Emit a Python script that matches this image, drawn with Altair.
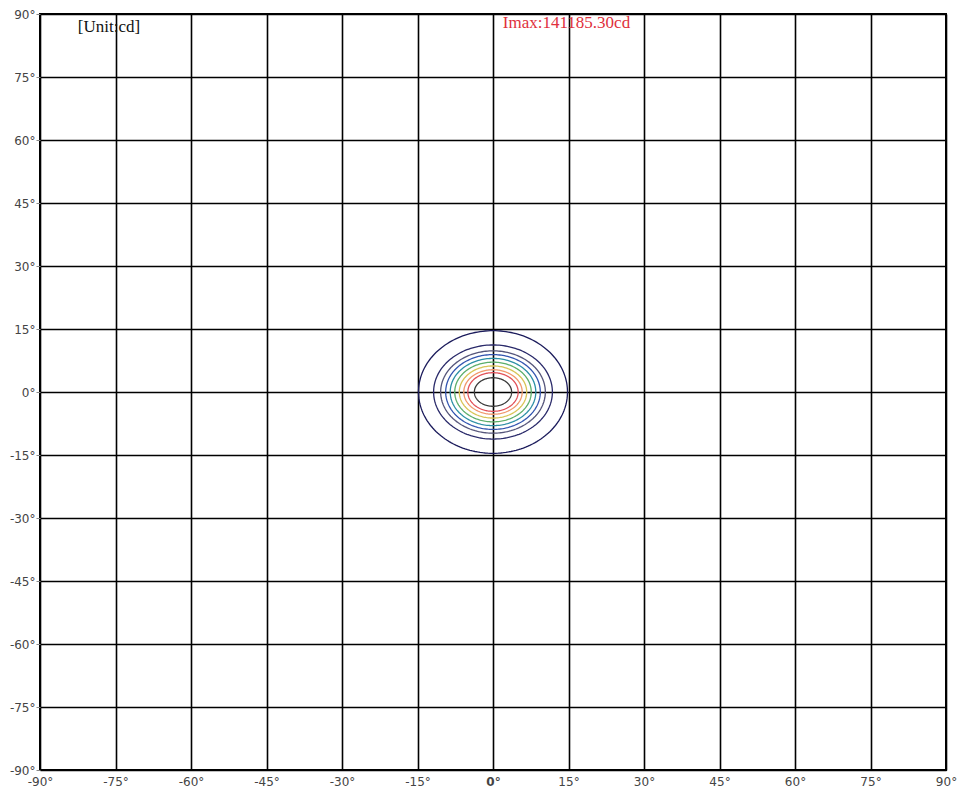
import altair as alt
import pandas as pd
import numpy as np

# Isocandela rings (half-widths in degrees)
ring_id = ["r1", "r2", "r3", "r4", "r5", "r6", "r7", "r8", "r9", "r10"]
ring_rx = [14.8, 11.8, 10.4, 9.4, 8.5, 7.6, 6.7, 5.8, 5.0, 3.7]
ring_ry = [14.6, 11.2, 9.8, 8.9, 8.0, 7.1, 6.2, 5.3, 4.6, 3.4]
ring_color = ["#1c1c5c", "#2a2a6a", "#55557a", "#3456b0", "#2c8fa6",
              "#5cae6a", "#d8c456", "#f0986a", "#e2525a", "#3a3a3a"]

tick_vals = list(range(-90, 91, 15))

note_text = ["[Unit:cd]", "Imax:141185.30cd"]
note_x = [-76.3, 14.6]
note_y = [87.0, 87.8]
note_color = ["#111111", "#e0303c"]

rows = []
ang = np.linspace(0, 2 * np.pi, 181)
for rid, rx, ry in zip(ring_id, ring_rx, ring_ry):
    for k, a in enumerate(ang):
        rows.append({"ring": rid, "k": k, "x": rx * np.cos(a), "y": ry * np.sin(a)})
df = pd.DataFrame(rows)

xs = alt.Scale(domain=[-90, 90], nice=False, zero=False)
ys = alt.Scale(domain=[-90, 90], nice=False, zero=False)

x_axis = alt.Axis(values=tick_vals, labelExpr="datum.value + '°'", title=None,
                  grid=True, gridColor="#000000", gridWidth=1.6, gridOpacity=1,
                  ticks=False, domain=False, labelFont="DejaVu Sans", labelFontSize=12,
                  labelColor="#444444", labelPadding=6, labelFlush=False,
                  labelOverlap=False, labelBound=False,
                  labelFontWeight={"condition": {"test": "datum.value == 0", "value": "bold"}, "value": "normal"})
y_axis = alt.Axis(values=tick_vals, labelExpr="datum.value + '°'", title=None,
                  grid=True, gridColor="#000000", gridWidth=1.6, gridOpacity=1,
                  ticks=True, tickSize=4, tickColor="#888888", domain=False,
                  labelFont="DejaVu Sans", labelFontSize=12, labelColor="#444444",
                  labelPadding=1, labelFlush=False, labelOverlap=False, labelBound=False)

rings = alt.Chart(df).mark_line(strokeWidth=1.3, interpolate="linear").encode(
    x=alt.X("x:Q", scale=xs, axis=x_axis),
    y=alt.Y("y:Q", scale=ys, axis=y_axis),
    detail="ring:N",
    order="k:Q",
    color=alt.Color("ring:N", scale=alt.Scale(domain=ring_id, range=ring_color), legend=None),
)

notes_df = pd.DataFrame({"t": note_text, "x": note_x, "y": note_y, "c": note_color})
notes = alt.Chart(notes_df).mark_text(font="Liberation Serif", fontSize=17, align="center",
                                      baseline="middle").encode(
    x=alt.X("x:Q", scale=xs),
    y=alt.Y("y:Q", scale=ys),
    text="t:N",
    color=alt.Color("c:N", scale=None),
)

chart = alt.layer(rings, notes).properties(
    width=906, height=756,
    autosize=alt.AutoSizeParams(type="none"),
    padding={"left": 32, "top": 6, "right": 12, "bottom": 28},
    background="#ffffff",
).configure_view(stroke="#000000", strokeWidth=2)

chart.save("out.html", embed_options={"renderer": "svg", "actions": False})
